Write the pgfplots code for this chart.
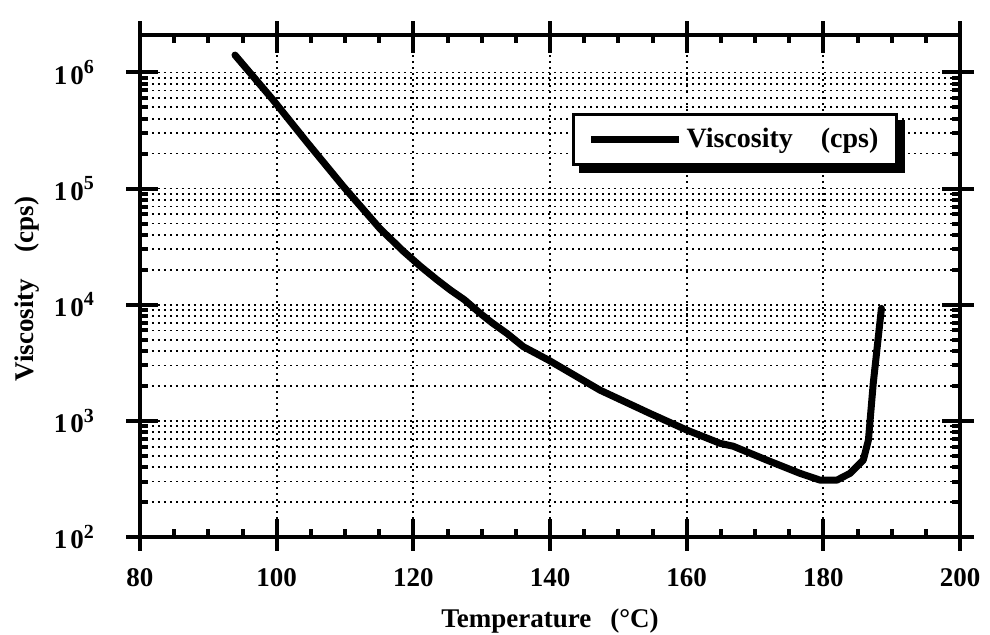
\documentclass[border=0pt]{standalone}
\usepackage{fontspec}
\setmainfont{Liberation Serif}
\usepackage{pgfplots}
\pgfplotsset{compat=1.18}
\usetikzlibrary{backgrounds}
\newcommand{\chartfont}{\fontsize{13.5}{16}\selectfont\bfseries}
\begin{document}
\begin{tikzpicture}
\begin{axis}[
  scale only axis, width=410pt, height=251pt,
  xmin=80, xmax=200, ymin=100, ymax=2.1e6,
  ymode=log, log basis y=10,
  xtick={80,100,...,200}, minor x tick num=3,
  tick align=inside,
  major tick length=9pt, minor tick length=4pt,
  tick style={black, line width=2pt},
  axis line style={line width=2pt},
  extra x ticks={80,100,...,200}, extra x tick labels={},
  extra y ticks={1e2,1e3,1e4,1e5,1e6}, extra y tick labels={},
  extra tick style={tick align=outside, major tick length=7pt, grid=none},
  xmajorgrids=true, ymajorgrids=true, yminorgrids=true,
  grid style={black, line width=0.9pt, dash pattern=on 1pt off 2pt},
  /pgf/number format/assume math mode=true,
  log number format basis/.code 2 args={1\hspace{1.5pt}0\textsuperscript{\fontsize{10}{12}\selectfont\pgfmathprintnumber{#2}}},
  tick label style={font=\chartfont},
  xticklabel style={yshift=-12pt},
  yticklabel style={xshift=-19pt},
  xlabel={Temperature\hspace{0.7em}(\textdegree C)},
  ylabel={Viscosity\hspace{1em}(cps)},
  label style={font=\chartfont},
  xlabel style={at={(axis description cs:0.5,-0.1793)}, anchor=base},
  ylabel style={at={(axis description cs:-0.1293,0.494)}, anchor=base},
  legend style={name=L, at={(rel axis cs:0.527,0.845)}, anchor=north west, draw=black,
    line width=1.5pt, fill=white, font=\fontsize{14}{16}\selectfont\bfseries,
    inner xsep=7pt, inner ysep=5pt},
  legend image code/.code={\draw[line width=3.5pt, line cap=butt] (0pt,0pt) -- (44pt,0pt);},
]
\addplot[black, line width=3.5pt, line join=round, line cap=round] table {
T V
93.9 1410000
99.5 577000
104.4 252000
109.8 103500
115.1 45300
118.5 29000
121.0 21500
123.4 16500
125.4 13400
127.5 11000
129.8 8410
131.5 7000
133.7 5660
136.1 4350
139.8 3330
147.3 1840
154.6 1160
160.0 834
164.9 640
166.8 605
171.7 460
176.6 353
179.5 309
182.0 309
183.9 353
185.85 460
186.6 684
187.3 2090
188.5 9290
};
\addlegendentry{Viscosity\hspace{1em}(cps)}
\coordinate (SW) at (rel axis cs:0,0);
\coordinate (NE) at (rel axis cs:1,1);
\end{axis}
\begin{scope}[on background layer]
\fill[black] ([xshift=3.5pt,yshift=-3.5pt]L.south west) rectangle ([xshift=3.5pt,yshift=-3.5pt]L.north east);
\end{scope}
\pgfresetboundingbox
\path[use as bounding box] ([xshift=-70pt,yshift=-49pt]SW) rectangle ([xshift=15pt,yshift=17.5pt]NE);
\end{tikzpicture}
\end{document}
